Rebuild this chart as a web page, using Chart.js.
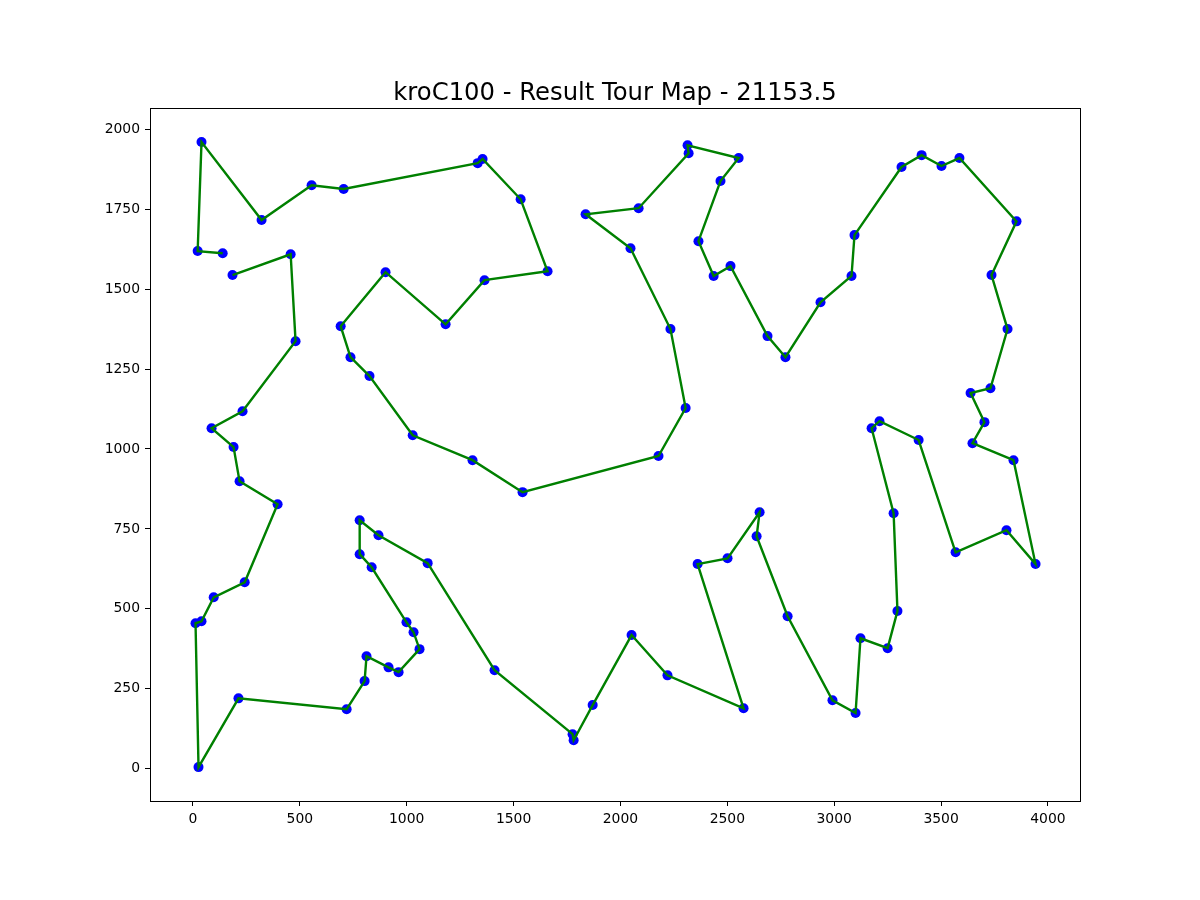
<!DOCTYPE html>
<html>
<head>
<meta charset="utf-8">
<style>html,body{margin:0;padding:0;background:#fff}#w{width:1200px;height:900px}</style>
<script src="https://cdn.jsdelivr.net/npm/chart.js@4"></script>
</head>
<body>
<div id="w"><canvas id="c" width="1200" height="900"></canvas></div>
<script>
const titleText = "kroC100 - Result Tour Map - 21153.5";
const tourX = [185,457,480,232,87,190,218,396,242,97,40,12,26,213,719,803,812,915,962,1060,1032,999,836,780,780,868,1098,1411,1776,1781,1870,2052,2220,2576,2361,2501,2651,2637,2782,2992,3100,3123,3250,3296,3278,3175,3212,3395,3568,3806,3942,3839,3647,3703,3638,3731,3811,3736,3853,3586,3502,3409,3315,3095,3081,2936,2772,2688,2515,2436,2365,2468,2553,2314,2319,2085,1837,2047,2234,2305,2178,1542,1308,1028,826,737,691,901,1182,1364,1659,1533,1355,1332,705,555,321,40,22,139];
const tourY = [1544,1609,1337,1118,1065,1006,899,827,583,536,461,455,5,220,186,274,352,317,302,374,427,458,630,671,777,730,643,308,108,89,199,418,292,189,640,658,802,727,477,214,174,408,377,493,799,1065,1087,1028,677,746,640,965,1018,1084,1175,1190,1375,1544,1712,1910,1885,1919,1882,1669,1541,1459,1287,1353,1572,1541,1650,1838,1910,1950,1925,1753,1734,1628,1375,1128,978,865,965,1043,1228,1287,1384,1553,1390,1528,1556,1781,1907,1894,1813,1825,1716,1960,1619,1612];

const points = tourX.map((x, i) => ({x, y: tourY[i]}));

const frame = {
  id: 'frame',
  afterDatasetsDraw(chart) {
    const a = chart.chartArea, g = chart.ctx;
    g.save();
    g.strokeStyle = '#000';
    g.lineWidth = 1;
    g.strokeRect(Math.round(a.left) + .5, Math.round(a.top) + .5, Math.round(a.width), Math.round(a.height));
    g.restore();
  }
};
const tickFont = {family: 'DejaVu Sans', size: 13.9};
const plain = v => String(v);
new Chart(document.getElementById('c'), {
  type: 'scatter',
  data: {
    datasets: [
      {data: points, showLine: true, borderColor: '#008000', borderWidth: 2.4, pointRadius: 0, fill: false, tension: 0},
      {data: points, showLine: false, backgroundColor: '#0000ff', borderColor: '#0000ff', pointRadius: 5, pointBorderWidth: 0}
    ]
  },
  plugins: [frame],
  options: {
    responsive: false,
    animation: false,
    devicePixelRatio: 1,
    layout: {padding: {left: 90, right: 120, top: 0, bottom: 59}},
    plugins: {
      legend: {display: false},
      tooltip: {enabled: false},
      title: {display: true, text: titleText, color: '#000', fullSize: false,
        font: {family: 'DejaVu Sans', size: 24.3, weight: 'normal'}, padding: {top: 79, bottom: 0}}
    },
    scales: {
      x: {
        type: 'linear', min: -201, max: 4150,
        afterFit(s) { s.height = 40; },
        border: {display: false},
        grid: {drawOnChartArea: false, color: '#000', tickLength: 5, tickWidth: 1, drawTicks: true},
        ticks: {includeBounds: false, color: '#000', font: tickFont, maxRotation: 0, autoSkip: false, padding: 5, callback: plain}
      },
      y: {
        type: 'linear', min: -101, max: 2066,
        afterFit(s) { s.width = 60; },
        border: {display: false},
        grid: {drawOnChartArea: false, color: '#000', tickLength: 5, tickWidth: 1, drawTicks: true},
        ticks: {stepSize: 250, includeBounds: false, color: '#000', font: tickFont, autoSkip: false, padding: 5, callback: plain}
      }
    }
  }
});
</script>
</body>
</html>
